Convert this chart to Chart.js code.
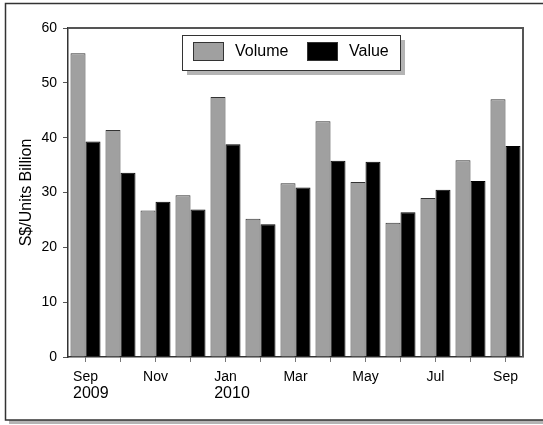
<!DOCTYPE html>
<html>
<head>
<meta charset="utf-8">
<script src="https://cdn.jsdelivr.net/npm/chart.js@4"></script>
<style>
  body { margin: 0; background: #fff; }
  canvas { display: block; }
</style>
</head>
<body>
<canvas id="grafico" width="543" height="425"></canvas>
<script>
// ---- datos ----
const meses = ["Sep 2009","Oct 2009","Nov 2009","Dec 2009","Jan 2010","Feb 2010","Mar 2010",
  "Apr 2010","May 2010","Jun 2010","Jul 2010","Aug 2010","Sep 2010"];
const volumen = [55.4, 41.4, 26.7, 29.5, 47.4, 25.2, 31.7, 43.0, 31.9, 24.5, 29.0, 35.9, 47.0];
const valor   = [39.3, 33.6, 28.3, 26.9, 38.8, 24.2, 30.9, 35.8, 35.6, 26.4, 30.5, 32.1, 38.5];
const etiquetasMes = ["Sep","","Nov","","Jan","","Mar","","May","","Jul","","Sep"];
const etiquetasAnio = ["2009","","","","2010","","","","","","","",""];
const ticksY = [0, 10, 20, 30, 40, 50, 60];

const fuente = 'Arial, "Liberation Sans", sans-serif';

// marco exterior con sombra
const marcoPlugin = {
  id: 'marco',
  beforeDraw(chart) {
    const ctx = chart.ctx;
    ctx.save();
    ctx.fillStyle = '#b4b4b4';
    ctx.fillRect(9, 7, 560, 417);
    ctx.fillStyle = '#fff';
    ctx.fillRect(5, 3, 560, 417);
    ctx.strokeStyle = '#333';
    ctx.lineWidth = 1.5;
    ctx.strokeRect(5.5, 3.5, 560, 416.5);
    ctx.restore();
  }
};

// borde superior/derecho del area, leyenda y anios
const extrasPlugin = {
  id: 'extras',
  afterDraw(chart) {
    const ctx = chart.ctx;
    const a = chart.chartArea;
    ctx.save();
    ctx.strokeStyle = '#555';
    ctx.lineWidth = 2;
    ctx.beginPath();
    ctx.moveTo(a.left, a.top);
    ctx.lineTo(a.right, a.top);
    ctx.lineTo(a.right, a.bottom);
    ctx.stroke();

    // leyenda dentro del area
    const lx = a.left + 114, ly = a.top + 7, lw = 218, lh = 35;
    ctx.fillStyle = '#b4b4b4';
    ctx.fillRect(lx + 5, ly + 5, lw, lh);
    ctx.fillStyle = '#fff';
    ctx.fillRect(lx, ly, lw, lh);
    ctx.strokeStyle = '#333';
    ctx.lineWidth = 1;
    ctx.strokeRect(lx + 0.5, ly + 0.5, lw, lh);

    const ds = chart.data.datasets;
    const posiciones = [11, 125];
    ctx.font = '16px ' + fuente;
    ctx.textBaseline = 'middle';
    ctx.textAlign = 'left';
    ds.forEach((d, i) => {
      const sx = lx + posiciones[i];
      ctx.fillStyle = d.backgroundColor;
      ctx.fillRect(sx, ly + 7, 31, 19);
      ctx.strokeStyle = '#333';
      ctx.strokeRect(sx + 0.5, ly + 7.5, 30, 18);
      ctx.fillStyle = '#000';
      ctx.fillText(d.label, sx + 42, ly + 17);
    });

    // anios bajo el mes, alineados a la izquierda
    const xs = chart.scales.x;
    etiquetasAnio.forEach((t, i) => {
      if (!t) return;
      ctx.font = '14px ' + fuente;
      const w = ctx.measureText(etiquetasMes[i]).width;
      ctx.font = '16px ' + fuente;
      ctx.fillText(t, xs.getPixelForValue(i) - w / 2, a.bottom + 37);
    });
    ctx.restore();
  }
};

const graph = document.getElementById('grafico');
const myChart = new Chart(graph, {
  type: 'bar',
  data: {
    labels: meses,
    datasets: [{
      label: 'Volume',
      data: volumen,
      backgroundColor: '#a0a0a0',
      borderColor: '#333',
      borderWidth: 1,
      barPercentage: 1,
      categoryPercentage: 0.857
    }, {
      label: 'Value',
      data: valor,
      backgroundColor: '#000',
      borderColor: '#000',
      borderWidth: 1,
      barPercentage: 1,
      categoryPercentage: 0.857
    }]
  },
  options: {
    responsive: false,
    animation: false,
    layout: { padding: { left: 0, top: 28, right: 20, bottom: 28 } },
    plugins: {
      legend: { display: false },
      tooltip: { enabled: false }
    },
    scales: {
      x: {
        offset: true,
        afterFit(s) { s.height = 40; },
        grid: { offset: false, drawOnChartArea: false, color: '#777', tickLength: 5 },
        border: { color: '#333', width: 1.5 },
        ticks: {
          autoSkip: false,
          maxRotation: 0,
          padding: 7,
          color: '#000',
          font: { family: fuente, size: 14 },
          callback: (v, i) => etiquetasMes[i]
        }
      },
      y: {
        min: ticksY[0],
        max: ticksY[ticksY.length - 1],
        afterFit(s) { s.width = 68; },
        afterBuildTicks(s) { s.ticks = ticksY.map(v => ({ value: v })); },
        grid: { drawOnChartArea: false, color: '#555', tickLength: 5 },
        border: { color: '#333', width: 1.5 },
        ticks: {
          padding: 6,
          color: '#000',
          font: { family: fuente, size: 14 }
        },
        title: {
          display: true,
          text: 'S$/Units Billion',
          color: '#000',
          font: { family: fuente, size: 16 },
          padding: { top: 17, bottom: 0 }
        }
      }
    }
  },
  plugins: [marcoPlugin, extrasPlugin]
});
</script>
</body>
</html>
